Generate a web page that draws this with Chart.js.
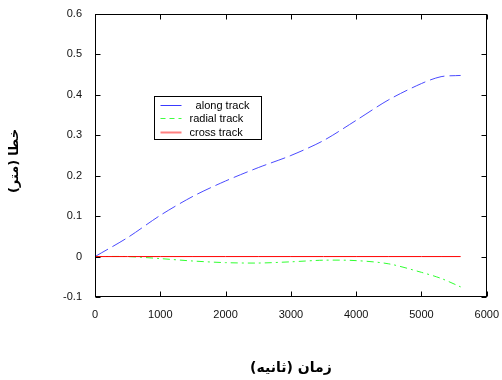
<!DOCTYPE html>
<html>
<head>
<meta charset="utf-8">
<script src="https://cdn.jsdelivr.net/npm/chart.js@4"></script>
<style>
  body { margin: 0; background: #fff; }
</style>
</head>
<body>
<canvas id="chart" width="502" height="380"></canvas>
<script>
// Data (time in seconds, error in metres)
const timeSec     = [0, 500, 1000, 1500, 2000, 2500, 3000, 3500, 4000, 4500, 5000, 5300, 5600];
const alongTrack  = [0, 0.047, 0.102, 0.149, 0.187, 0.220, 0.250, 0.287, 0.337, 0.388, 0.428, 0.445, 0.448];
const radialTrack = [0, 0, -0.005, -0.011, -0.015, -0.016, -0.013, -0.009, -0.010, -0.018, -0.039, -0.054, -0.075];
const crossTrack  = [0, 0, 0, 0, 0, 0, 0, 0, 0, 0, 0, 0, 0];
const seriesNames = ['  along track', 'radial track', 'cross track'];

const xTicks = [0, 1000, 2000, 3000, 4000, 5000, 6000];
const yTicks = [-0.1, 0, 0.1, 0.2, 0.3, 0.4, 0.5, 0.6];

// axis titles, words in reading order (right to left)
const xTitleWords = ['زمان', '(ثانیه)'];
const yTitleWords = ['خطا', '(متر)'];

const toPoints = (vals) => vals.map((v, i) => ({x: timeSec[i], y: v}));

// legend sample styles (short segments as in the figure)
const legendSamples = [
  {color: '#3a3aff', dash: [], width: 1},
  {color: '#40ff40', dash: [5, 4], width: 1},
  {color: '#ff8080', dash: [], width: 2},
];

const tickFont = {family: '"Liberation Sans", Arial, sans-serif', size: 11};

// lay words out right to left, centred on cx
function drawWordsRTL(ctx, words, cx, cy, gap) {
  const widths = words.map(w => ctx.measureText(w).width);
  const total = widths.reduce((s, w) => s + w, 0) + gap * (words.length - 1);
  let right = cx + total / 2;
  words.forEach((w, i) => {
    ctx.fillText(w, right - widths[i], cy);
    right -= widths[i] + gap;
  });
}

// box, inward ticks, legend and axis titles, matlab style
const matlabBox = {
  id: 'matlabBox',
  afterDraw(chart) {
    const {ctx, chartArea: a, scales: {x, y}} = chart;
    const L = Math.round(a.left) + 0.5, R = Math.round(a.right) - 0.5;
    const T = Math.round(a.top) + 0.5, B = Math.round(a.bottom) - 0.5;
    ctx.save();
    ctx.strokeStyle = '#000';
    ctx.lineWidth = 1;
    ctx.setLineDash([]);
    ctx.strokeRect(L, T, R - L, B - T);
    ctx.beginPath();
    xTicks.forEach(v => {
      const px = Math.round(x.getPixelForValue(v)) + 0.5;
      ctx.moveTo(px, B); ctx.lineTo(px, B - 5);
      ctx.moveTo(px, T); ctx.lineTo(px, T + 5);
    });
    yTicks.forEach(v => {
      const py = Math.round(y.getPixelForValue(v)) + 0.5;
      ctx.moveTo(L, py); ctx.lineTo(L + 5, py);
      ctx.moveTo(R, py); ctx.lineTo(R - 5, py);
    });
    ctx.stroke();

    // legend box
    const bx = Math.round(a.left) + 59.5, by = Math.round(a.top) + 82.5;
    const bw = 107, bh = 43;
    ctx.fillStyle = '#fff';
    ctx.fillRect(bx, by, bw, bh);
    ctx.strokeStyle = '#000';
    ctx.strokeRect(bx, by, bw, bh);
    ctx.font = '11px "Liberation Sans", Arial, sans-serif';
    ctx.textBaseline = 'middle';
    ctx.textAlign = 'left';
    seriesNames.forEach((name, i) => {
      const ry = Math.round(by + 8 + i * 13.5) + 0.5;
      const s = legendSamples[i];
      ctx.beginPath();
      ctx.strokeStyle = s.color;
      ctx.lineWidth = s.width;
      ctx.setLineDash(s.dash);
      ctx.moveTo(bx + 6, ry);
      ctx.lineTo(bx + 27, ry);
      ctx.stroke();
      ctx.fillStyle = '#000';
      ctx.fillText(name, bx + 35, ry);
    });

    // x title under the plot
    ctx.font = 'bold 14px "DejaVu Sans", Tahoma, sans-serif';
    drawWordsRTL(ctx, xTitleWords, (a.left + a.right) / 2, 368, 5);

    // y title, rotated so it reads bottom to top
    ctx.font = 'bold 13px "DejaVu Sans", Tahoma, sans-serif';
    ctx.translate(15, 161);
    ctx.rotate(-Math.PI / 2);
    drawWordsRTL(ctx, yTitleWords, 0, 0, 4);
    ctx.restore();
  }
};

new Chart(document.getElementById('chart'), {
  type: 'line',
  data: {
    datasets: [
      {label: seriesNames[0], data: toPoints(alongTrack), borderColor: '#4a4aff',
       borderWidth: 1, borderDash: [15, 5], tension: 0.3, order: 3},
      {label: seriesNames[1], data: toPoints(radialTrack), borderColor: '#30ff30',
       borderWidth: 1, borderDash: [7, 4, 2, 4], tension: 0.3, order: 2},
      {label: seriesNames[2], data: toPoints(crossTrack), borderColor: '#ff0000',
       borderWidth: 1, tension: 0, order: 1},
    ]
  },
  options: {
    responsive: false,
    animation: false,
    devicePixelRatio: 1,
    elements: {point: {radius: 0}},
    layout: {padding: {top: 14, right: 14, left: 0, bottom: 0}},
    plugins: {legend: {display: false}, tooltip: {enabled: false}},
    scales: {
      x: {
        type: 'linear', min: 0, max: 6000,
        afterBuildTicks: s => { s.ticks = xTicks.map(v => ({value: v})); },
        afterFit: s => { s.height = 83; },
        grid: {display: false},
        border: {display: false},
        ticks: {font: tickFont, color: '#111', padding: 3, maxRotation: 0,
                callback: v => String(v)}
      },
      y: {
        min: -0.1, max: 0.6,
        afterBuildTicks: s => { s.ticks = yTicks.map(v => ({value: v})); },
        afterFit: s => { s.width = 95; },
        grid: {display: false},
        border: {display: false},
        ticks: {font: tickFont, color: '#111', padding: 5,
                callback: v => String(Number(v.toFixed(1)))}
      }
    }
  },
  plugins: [matlabBox]
});
</script>
</body>
</html>
